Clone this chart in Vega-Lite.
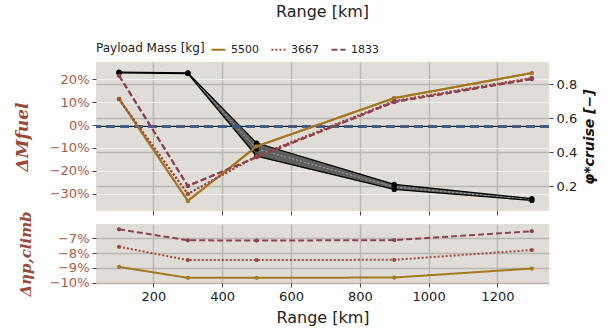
{
  "$schema": "https://vega.github.io/schema/vega-lite/v6.json",
  "background": "white",
  "padding": {"left": 13, "top": 4, "right": 2, "bottom": 4},
  "config": {
    "font": "DejaVu Sans",
    "view": {"fill": "#e0ddd8", "stroke": null},
    "axis": {"labelFontSize": 13, "labelColor": "#222222", "tickColor": "#444444", "domain": false, "gridColor": "#b9b7b4", "gridWidth": 1.5, "tickSize": 4, "labelPadding": 3, "labelOverlap": false}
  },
  "datasets": {
    "mass": [
      {"range": 100, "payload": "5500", "dm": 0.114, "deta": -0.0893},
      {"range": 300, "payload": "5500", "dm": -0.330, "deta": -0.0967},
      {"range": 500, "payload": "5500", "dm": -0.093, "deta": -0.0967},
      {"range": 900, "payload": "5500", "dm": 0.117, "deta": -0.0965},
      {"range": 1300, "payload": "5500", "dm": 0.226, "deta": -0.0904},
      {"range": 100, "payload": "3667", "dm": 0.112, "deta": -0.0757},
      {"range": 300, "payload": "3667", "dm": -0.300, "deta": -0.0847},
      {"range": 500, "payload": "3667", "dm": -0.135, "deta": -0.0847},
      {"range": 900, "payload": "3667", "dm": 0.104, "deta": -0.0845},
      {"range": 1300, "payload": "3667", "dm": 0.204, "deta": -0.0779},
      {"range": 100, "payload": "1833", "dm": 0.215, "deta": -0.0639},
      {"range": 300, "payload": "1833", "dm": -0.265, "deta": -0.0713},
      {"range": 500, "payload": "1833", "dm": -0.140, "deta": -0.0715},
      {"range": 900, "payload": "1833", "dm": 0.100, "deta": -0.0712},
      {"range": 1300, "payload": "1833", "dm": 0.200, "deta": -0.0652}
    ],
    "phi": [
      {"range": 100, "lo": 0.866, "mid": 0.868, "hi": 0.870},
      {"range": 300, "lo": 0.862, "mid": 0.864, "hi": 0.866},
      {"range": 500, "lo": 0.376, "mid": 0.418, "hi": 0.453},
      {"range": 900, "lo": 0.180, "mid": 0.195, "hi": 0.210},
      {"range": 1300, "lo": 0.115, "mid": 0.120, "hi": 0.126}
    ]
  },
  "spacing": -6,
  "resolve": {"legend": {"color": "independent", "strokeDash": "independent"}},
  "vconcat": [
    {
      "width": 453,
      "height": 149,
      "title": {"text": "Range [km]", "fontSize": 16, "fontWeight": "normal", "color": "#222222", "anchor": "middle", "offset": 21},
      "resolve": {"scale": {"y": "independent"}},
      "layer": [
        {
          "data": {"name": "mass"},
          "layer": [
            {
              "mark": {"type": "line", "strokeWidth": 2, "point": {"filled": true, "size": 18}},
              "encoding": {
                "x": {"field": "range", "type": "quantitative", "scale": {"domain": [33, 1350], "nice": false, "zero": false}, "axis": {"labels": false, "labelPadding": 0, "title": null, "values": [200, 400, 600, 800, 1000, 1200], "grid": true}},
                "y": {"field": "dm", "type": "quantitative", "scale": {"domain": [-0.374, 0.274], "nice": false, "zero": false}, "axis": {"orient": "left", "values": [-0.3, -0.2, -0.1, 0, 0.1, 0.2], "format": ".0%", "labelOverlap": false, "labelColor": "#a85a48", "grid": true, "gridColor": "#f4f3f1", "gridWidth": 1.2, "title": "ΔMfuel", "titleFont": "DejaVu Serif", "titleFontSize": 17, "titleFontWeight": "bold", "titleFontStyle": "italic", "titleColor": "#9b4a3a", "titlePadding": 18}},
                "color": {"field": "payload", "type": "nominal", "sort": ["5500", "3667", "1833"], "scale": {"domain": ["5500", "3667", "1833"], "range": ["#a47720", "#a04a3e", "#8a4250"]}, "legend": {"title": "Payload Mass [kg]", "orient": "top", "direction": "horizontal", "titleOrient": "left", "titleFontSize": 12, "titleFontWeight": "normal", "titleColor": "#222222", "labelFontSize": 11, "labelColor": "#222222", "symbolType": "stroke", "symbolStrokeWidth": 2, "symbolSize": 200, "offset": 7, "columnPadding": 8}},
                "strokeDash": {"field": "payload", "type": "nominal", "sort": ["5500", "3667", "1833"], "scale": {"domain": ["5500", "3667", "1833"], "range": [[1, 0], [2, 2], [6, 3]]}, "legend": {"title": "Payload Mass [kg]", "orient": "top", "direction": "horizontal", "titleOrient": "left", "titleFontSize": 12, "titleFontWeight": "normal", "titleColor": "#222222", "labelFontSize": 11, "labelColor": "#222222", "symbolType": "stroke", "symbolStrokeWidth": 2, "symbolSize": 200, "offset": 7, "columnPadding": 8}}
              }
            }
          ]
        },
        {
          "data": {"name": "phi"},
          "layer": [
            {
              "mark": {"type": "area", "color": "#5f5f5f", "opacity": 1},
              "encoding": {
                "x": {"field": "range", "type": "quantitative"},
                "y": {"field": "hi", "type": "quantitative", "scale": {"domain": [0.053, 0.93], "nice": false, "zero": false}, "axis": {"orient": "right", "values": [0.2, 0.4, 0.6, 0.8], "format": ".1f", "labelOverlap": false, "grid": true, "gridColor": "#b9b7b4", "title": "φ*cruise  [−]", "titleFontSize": 14, "titleFontWeight": "bold", "titleFontStyle": "italic", "titleColor": "#111111", "titleAngle": 270, "titlePadding": 20}},
                "y2": {"field": "lo"}
              }
            },
            {
              "mark": {"type": "line", "color": "#a8a8a8", "strokeWidth": 1, "strokeDash": [2, 2]},
              "encoding": {"x": {"field": "range", "type": "quantitative"}, "y": {"field": "mid", "type": "quantitative"}}
            },
            {
              "mark": {"type": "line", "color": "#000000", "strokeWidth": 1.3, "point": {"filled": true, "size": 28, "color": "#000000"}},
              "encoding": {"x": {"field": "range", "type": "quantitative"}, "y": {"field": "hi", "type": "quantitative"}}
            },
            {
              "mark": {"type": "line", "color": "#000000", "strokeWidth": 1.3, "point": {"filled": true, "size": 28, "color": "#000000"}},
              "encoding": {"x": {"field": "range", "type": "quantitative"}, "y": {"field": "lo", "type": "quantitative"}}
            },
            {
              "mark": {"type": "point", "filled": true, "size": 28, "color": "#000000", "opacity": 1},
              "encoding": {"x": {"field": "range", "type": "quantitative"}, "y": {"field": "mid", "type": "quantitative"}}
            },
            {
              "mark": {"type": "rule", "color": "#111111", "strokeWidth": 1},
              "encoding": {"y": {"datum": 0.5507, "type": "quantitative"}}
            },
            {
              "mark": {"type": "rule", "color": "#3c5a84", "strokeWidth": 2, "strokeDash": [9, 5], "opacity": 0.9},
              "encoding": {"y": {"datum": 0.5507, "type": "quantitative"}}
            }
          ]
        },
        {
          "data": {"name": "mass"},
          "mark": {"type": "line", "strokeWidth": 2, "point": {"filled": true, "size": 18}},
          "encoding": {
            "x": {"field": "range", "type": "quantitative"},
            "y": {"field": "dm", "type": "quantitative", "scale": {"domain": [-0.374, 0.274], "nice": false, "zero": false}, "axis": null},
            "color": {"field": "payload", "type": "nominal", "sort": ["5500", "3667", "1833"], "scale": {"domain": ["5500", "3667", "1833"], "range": ["#a47720", "#a04a3e", "#8a4250"]}, "legend": null},
            "strokeDash": {"field": "payload", "type": "nominal", "sort": ["5500", "3667", "1833"], "scale": {"domain": ["5500", "3667", "1833"], "range": [[1, 0], [2, 2], [6, 3]]}, "legend": null}
          }
        }
      ]
    },
    {
      "width": 453,
      "height": 59,
      "data": {"name": "mass"},
      "mark": {"type": "line", "strokeWidth": 2, "point": {"filled": true, "size": 18}},
      "encoding": {
        "x": {"field": "range", "type": "quantitative", "scale": {"domain": [33, 1350], "nice": false, "zero": false}, "axis": {"values": [200, 400, 600, 800, 1000, 1200], "format": "d", "grid": true, "title": "Range [km]", "titleFontSize": 16, "titleFontWeight": "normal", "titleColor": "#222222", "titlePadding": 6}},
        "y": {"field": "deta", "type": "quantitative", "scale": {"domain": [-0.1002, -0.0603], "nice": false, "zero": false}, "axis": {"values": [-0.1, -0.09, -0.08, -0.07], "format": ".0%", "labelColor": "#a85a48", "grid": true, "title": "Δηp,climb", "titleFont": "DejaVu Serif", "titleFontSize": 15, "titleFontWeight": "bold", "titleFontStyle": "italic", "titleColor": "#9b4a3a", "titlePadding": 16}},
        "color": {"field": "payload", "type": "nominal", "scale": {"domain": ["5500", "3667", "1833"], "range": ["#a47720", "#a04a3e", "#8a4250"]}, "legend": null},
        "strokeDash": {"field": "payload", "type": "nominal", "scale": {"domain": ["5500", "3667", "1833"], "range": [[1, 0], [2, 2], [6, 3]]}, "legend": null}
      }
    }
  ]
}
